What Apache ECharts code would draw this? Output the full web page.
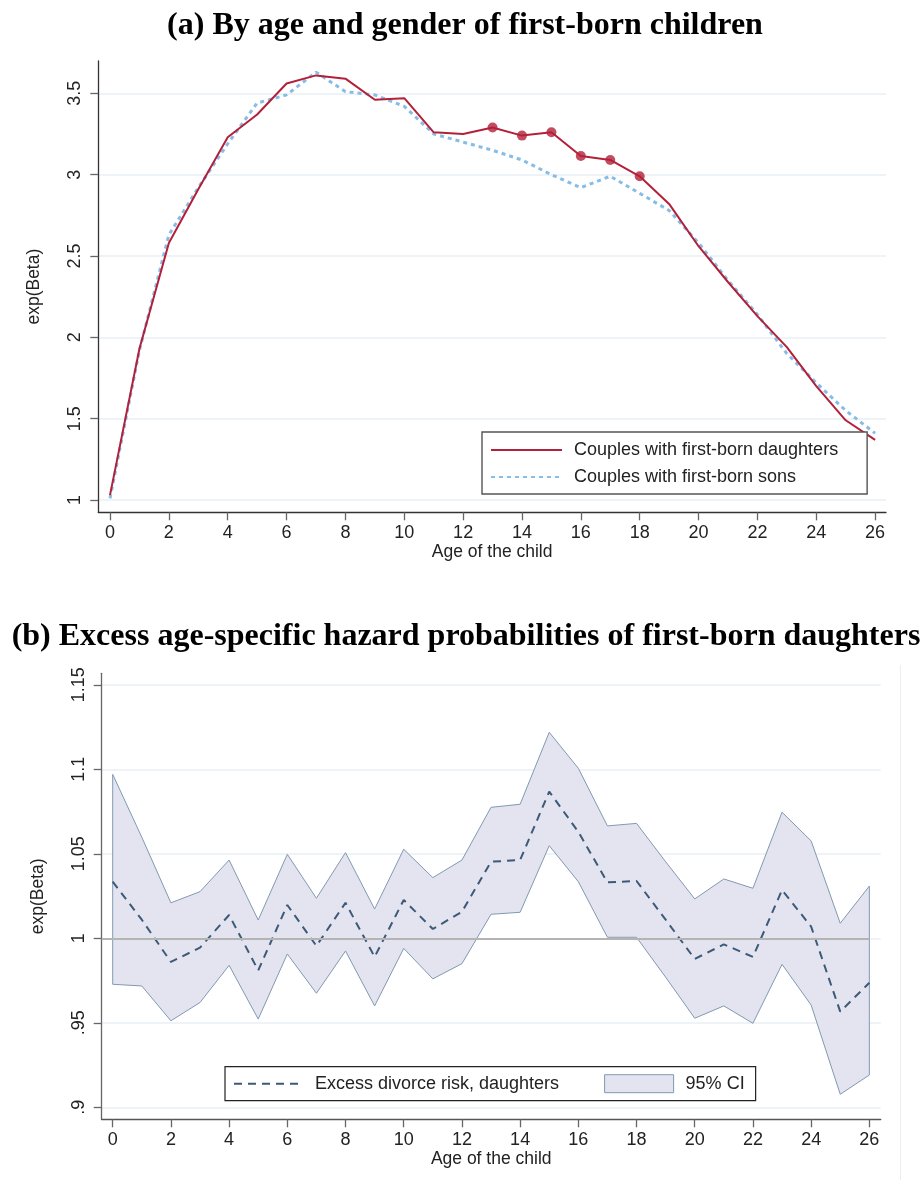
<!DOCTYPE html>
<html><head><meta charset="utf-8">
<script src="https://cdn.jsdelivr.net/npm/echarts@6/dist/echarts.min.js"></script>
<style>html,body{margin:0;padding:0;background:#fff}#c{width:924px;height:1180px}</style>
</head><body><div id="c"></div>
<script>
// ---------- data ----------
const ages = [0,1,2,3,4,5,6,7,8,9,10,11,12,13,14,15,16,17,18,19,20,21,22,23,24,25,26];
const daughters = [1.03,1.93,2.58,2.91,3.23,3.37,3.56,3.61,3.59,3.46,3.47,3.26,3.25,3.29,3.24,3.26,3.115,3.09,2.99,2.82,2.56,2.34,2.13,1.94,1.70,1.49,1.37];
const sons = [1.01,1.92,2.63,2.92,3.19,3.44,3.49,3.63,3.51,3.49,3.42,3.25,3.20,3.15,3.09,3.00,2.92,2.99,2.885,2.78,2.58,2.35,2.14,1.90,1.72,1.55,1.41];
const markedAges = [13,14,15,16,17,18];
const excessRisk = [1.0335,1.011,0.986,0.9945,1.0138,0.981,1.0197,0.9955,1.021,0.989,1.0227,1.0055,1.0157,1.0453,1.0463,1.0868,1.063,1.0331,1.0339,1.011,0.9878,0.9964,0.989,1.0286,1.0069,0.9566,0.9737];
const ciLower = [0.9728,0.9718,0.9512,0.962,0.984,0.9522,0.9907,0.9675,0.9925,0.960,0.994,0.976,0.985,1.0142,1.0154,1.0548,1.0335,1.0006,1.0006,0.977,0.9527,0.960,0.9497,0.9846,0.9605,0.9077,0.9191];
const ciUpper = [1.097,1.0598,1.021,1.0276,1.0463,1.0108,1.0497,1.0237,1.0507,1.0173,1.0527,1.0359,1.0463,1.0775,1.0793,1.1219,1.1006,1.0665,1.068,1.0453,1.0233,1.0351,1.0296,1.0746,1.0576,1.0089,1.0309];
const xTicks = [0,2,4,6,8,10,12,14,16,18,20,22,24,26];
const topYTicks = [1,1.5,2,2.5,3,3.5];
const topYLabels = ['1','1.5','2','2.5','3','3.5'];
const botYTicks = [0.9,0.95,1,1.05,1.1,1.15];
const botYLabels = ['.9','.95','1','1.05','1.1','1.15'];
const refValue = 1;

const titleA = '(a) By age and gender of first-born children';
const titleB = '(b) Excess age-specific hazard probabilities of first-born daughters';
const nameD = 'Couples with first-born daughters';
const nameS = 'Couples with first-born sons';
const nameE = 'Excess divorce risk, daughters';
const nameCI = '95% CI';

// ---------- styles ----------
const SANS = '"Liberation Sans", Arial, sans-serif';
const SERIF = 'bold 32px "Liberation Serif", "Times New Roman", serif';
const RED = '#b3203a', BLUE = '#86bde6', NAVY = '#3c5a78';
const BAND = '#e3e4f0', BANDEDGE = '#8299b2';
const GRID = '#e9eff4';
const HIDE = { opacity: 0, color: 'transparent', borderWidth: 0 };

function labelFor(ticks, labels) {
  return function (v) {
    for (let i = 0; i < ticks.length; i++) if (Math.abs(ticks[i] - v) < 1e-6) return labels[i];
    return '';
  };
}
function xAxisCfg(idx, min, max, axColor) {
  return {
    type: 'value', gridIndex: idx, min: min, max: max,
    name: 'Age of the child', nameLocation: 'middle', nameGap: 30,
    nameTextStyle: { fontSize: 17.5, color: '#222', fontFamily: SANS },
    axisLine: { onZero: false, lineStyle: { color: axColor, width: 1.3 } },
    axisTick: { customValues: xTicks, length: 8, lineStyle: { color: '#666', width: 1.3 } },
    axisLabel: { customValues: xTicks, fontSize: 18, margin: 12, color: '#222', fontFamily: SANS },
    splitLine: { show: false }
  };
}
function yAxisCfg(idx, min, max, ticks, labels, axColor) {
  return {
    type: 'value', gridIndex: idx, min: min, max: max,
    name: 'exp(Beta)', nameLocation: 'middle', nameGap: 55,
    nameTextStyle: { fontSize: 17.5, color: '#222', fontFamily: SANS },
    axisLine: { show: true, onZero: false, lineStyle: { color: axColor, width: 1.3 } },
    axisTick: { show: true, customValues: ticks, length: 8, lineStyle: { color: '#666', width: 1.3 } },
    axisLabel: { customValues: ticks, rotate: 90, fontSize: 18, margin: 14, color: '#222', fontFamily: SANS,
      formatter: labelFor(ticks, labels) },
    splitLine: { show: true, lineStyle: { color: GRID, width: 1.5 } }
  };
}

const chart = echarts.init(document.getElementById('c'), null, { renderer: 'canvas' });
const option = {
  backgroundColor: '#fff',
  animation: false,
  grid: [
    { left: 98.3, top: 61, width: 787.7, height: 451.3 },
    { left: 101.7, top: 673.3, width: 779, height: 446 }
  ],
  xAxis: [ xAxisCfg(0, -0.398, 26.37, '#333'), xAxisCfg(1, -0.378, 26.39, '#555') ],
  yAxis: [ yAxisCfg(0, 0.9244, 3.6985, topYTicks, topYLabels, '#333'),
           yAxisCfg(1, 0.8929, 1.1568, botYTicks, botYLabels, '#666') ],
  legend: [
    {
      data: [{ name: nameD, itemStyle: HIDE }, { name: nameS, itemStyle: HIDE }],
      orient: 'vertical', left: 482, top: 432,
      itemWidth: 71, itemHeight: 14, itemGap: 9,
      padding: [9, 29, 8, 8],
      borderColor: '#555', borderWidth: 1.4, backgroundColor: '#fff',
      textStyle: { fontSize: 18, color: '#222', fontFamily: SANS, lineHeight: 18, padding: [0, 0, 0, 7] },
      selectedMode: false
    },
    {
      data: [{ name: nameE, itemStyle: HIDE },
             { name: nameCI, icon: 'rect', itemStyle: { color: BAND, borderColor: BANDEDGE, borderWidth: 1 } }],
      orient: 'horizontal', left: 225, top: 1066.7,
      itemWidth: 69, itemHeight: 18, itemGap: 45,
      padding: [7.5, 11, 7.5, 8],
      borderColor: '#222', borderWidth: 1.2, backgroundColor: '#fff',
      textStyle: { fontSize: 18, color: '#222', fontFamily: SANS, lineHeight: 18, padding: [0, 0, 0, 7] },
      selectedMode: false
    }
  ],
  graphic: [
    { type: 'text', x: 465, y: 26, style: { text: titleA, font: SERIF, fill: '#000', align: 'center', verticalAlign: 'middle' } },
    { type: 'text', x: 466, y: 637, style: { text: titleB, font: SERIF, fill: '#000', align: 'center', verticalAlign: 'middle' } },
    { type: 'line', shape: { x1: 900.5, y1: 665, x2: 900.5, y2: 1180 }, style: { stroke: '#eceff2', lineWidth: 1 } }
  ],
  series: [
    {
      name: nameS, type: 'line', xAxisIndex: 0, yAxisIndex: 0,
      data: ages.map((a, i) => [a, sons[i]]), symbol: 'none',
      lineStyle: { color: BLUE, width: 3, type: [4, 4] }, itemStyle: { color: BLUE }, z: 2
    },
    {
      name: nameD, type: 'line', xAxisIndex: 0, yAxisIndex: 0,
      data: ages.map((a, i) => [a, daughters[i]]), symbol: 'none',
      lineStyle: { color: RED, width: 2 }, itemStyle: { color: RED }, z: 3
    },
    {
      name: 'marked', type: 'scatter', xAxisIndex: 0, yAxisIndex: 0,
      data: markedAges.map(a => [a, daughters[ages.indexOf(a)]]),
      symbol: 'circle', symbolSize: 10, itemStyle: { color: RED }, z: 4
    },
    {
      name: nameCI, type: 'custom', xAxisIndex: 1, yAxisIndex: 1,
      data: ages.map((a, i) => [a, ciLower[i], ciUpper[i]]),
      encode: { x: 0, y: [1, 2] },
      itemStyle: { color: BAND, borderColor: BANDEDGE, borderWidth: 1 },
      renderItem: function (params, api) {
        if (params.dataIndex !== 0) return null;
        const pts = [];
        for (let i = 0; i < ages.length; i++) pts.push(api.coord([ages[i], ciUpper[i]]));
        for (let i = ages.length - 1; i >= 0; i--) pts.push(api.coord([ages[i], ciLower[i]]));
        return { type: 'polygon', shape: { points: pts }, style: { fill: BAND, stroke: BANDEDGE, lineWidth: 1 } };
      },
      z: 1
    },
    {
      name: nameE, type: 'line', xAxisIndex: 1, yAxisIndex: 1,
      data: ages.map((a, i) => [a, excessRisk[i]]), symbol: 'none',
      lineStyle: { color: NAVY, width: 2, type: [8, 6] }, itemStyle: { color: NAVY }, z: 3,
      markLine: {
        silent: true, symbol: 'none', label: { show: false },
        lineStyle: { color: '#b4b4b4', width: 2, type: 'solid' },
        data: [[{ coord: [-0.378, refValue] }, { coord: [ages[ages.length - 1], refValue] }]]
      }
    }
  ]
};
chart.setOption(option);
</script>
</body></html>
